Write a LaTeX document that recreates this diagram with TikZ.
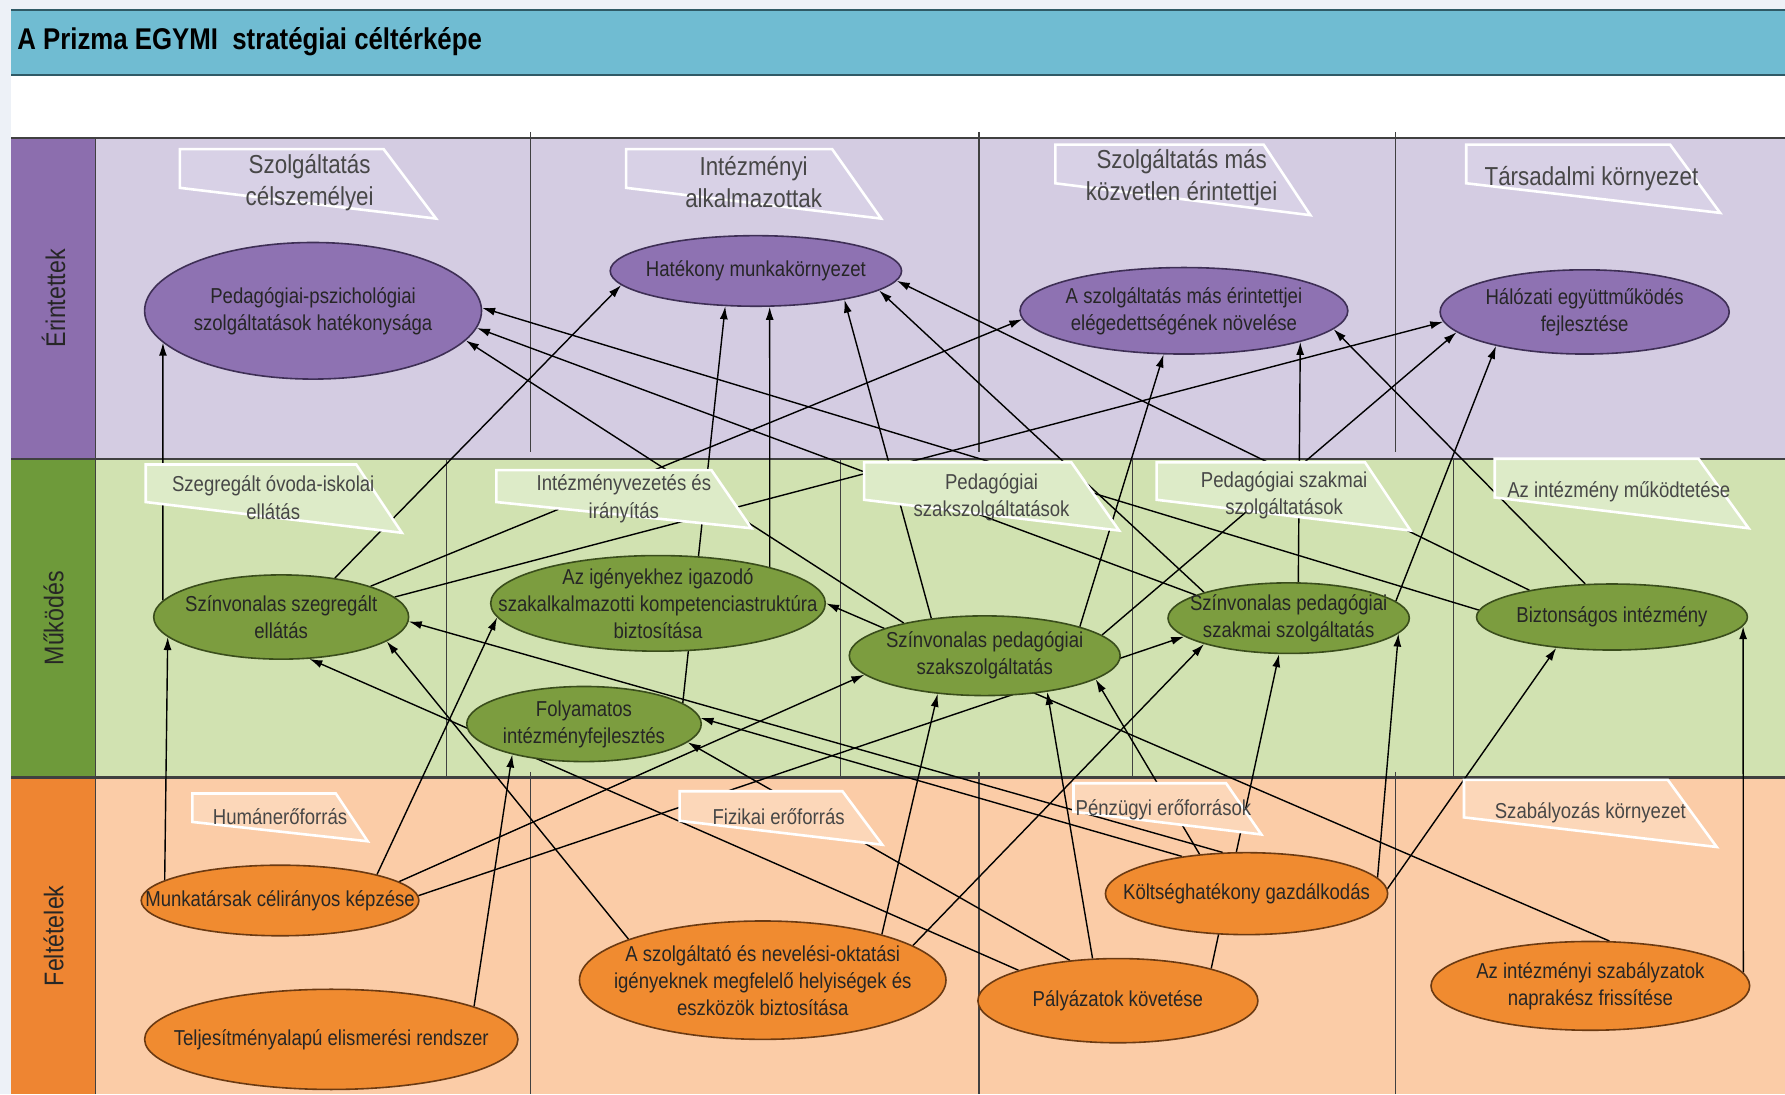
\documentclass[tikz,border=0pt]{standalone}
\usepackage{fontspec}
\setmainfont{Liberation Sans}[FakeStretch=0.86]
\usetikzlibrary{arrows.meta,shapes.geometric}

\definecolor{pagebg}{HTML}{EDF1F7}
\definecolor{titleband}{HTML}{70BCD2}
\definecolor{bandline}{HTML}{2F5A66}
\definecolor{erbg}{HTML}{D4CCE2}
\definecolor{erlab}{HTML}{8C6EAE}
\definecolor{erfill}{HTML}{8E72B2}
\definecolor{erline}{HTML}{3E2F55}
\definecolor{mubg}{HTML}{D1E2B1}
\definecolor{mulab}{HTML}{6E9A3A}
\definecolor{mufill}{HTML}{7C9D3F}
\definecolor{muline}{HTML}{3A4D1C}
\definecolor{febg}{HTML}{FBCCA7}
\definecolor{felab}{HTML}{EE8532}
\definecolor{fefill}{HTML}{F08B30}
\definecolor{feline}{HTML}{6B3A12}
\definecolor{banE}{HTML}{D8D1E6}
\definecolor{banM}{HTML}{DDEBC8}
\definecolor{banF}{HTML}{FCD7B9}
\definecolor{inktxt}{HTML}{262626}
\definecolor{grayline}{HTML}{404040}

\pgfdeclarelayer{back}
\pgfdeclarelayer{edges}
\pgfsetlayers{back,edges,main}

\tikzset{
  >={Latex[length=6.5pt,width=4pt]},
  goal/.style={ellipse, draw, line width=0.8pt, inner sep=0pt},
  goalE/.style={goal, fill=erfill, draw=erline},
  goalM/.style={goal, fill=mufill, draw=muline},
  goalF/.style={goal, fill=fefill, draw=feline},
  gtxt/.style={align=center, text=inktxt, font=\fontsize{10.8}{13.5}\selectfont},
  tabshape/.style={draw=white, line width=1.3pt},
  tabtxt/.style={align=center, text=inktxt!85, font=\fontsize{10.8}{13.7}\selectfont},
  tabtxtbig/.style={tabtxt, font=\fontsize{13}{16}\selectfont},
  link/.style={->, line width=0.7pt},
  divider/.style={grayline, line width=0.6pt},
  rowline/.style={grayline, line width=1.2pt},
  rowlabel/.style={rotate=90, text=inktxt, font=\fontsize{13.5}{16}\selectfont},
}

\begin{document}
\begin{tikzpicture}[x=0.02cm,y=-0.02cm]
    \useasboundingbox (0,0) rectangle (1568,961);
    %% background and rows
    \begin{pgfonlayer}{back}
        \fill[pagebg] (0,0) rectangle (1568,961);
        \fill[titleband] (10,9) rectangle (1568,66);
        \draw[bandline,line width=1.2pt] (10,9) -- (1568,9);
        \draw[bandline,line width=1.2pt] (10,66) -- (1568,66);
        \fill[white] (10,67) rectangle (1568,121);
        \fill[erbg] (84,121) rectangle (1568,403);
        \fill[erlab] (10,121) rectangle (84,403);
        \fill[mubg] (84,403) rectangle (1568,683);
        \fill[mulab] (10,403) rectangle (84,683);
        \fill[febg] (84,683) rectangle (1568,961);
        \fill[felab] (10,683) rectangle (84,961);
        \draw[rowline] (10,121) -- (1568,121);
        \draw[rowline] (10,403) -- (1568,403);
        \draw[rowline] (10,683) -- (1568,683);
        \draw[divider] (84,121) -- (84,961);
        %% dividers
        \foreach \x in {466,860,1226} \draw[divider] (\x,116) -- (\x,397);
        \foreach \x in {392,738,995,1277} \draw[divider] (\x,404) -- (\x,683);
        \foreach \x in {466,860,1226} \draw[divider] (\x,678) -- (\x,961);
    \end{pgfonlayer}

    %% title and row labels
    \node[anchor=west,text=black,font=\bfseries\fontsize{15}{18}\selectfont] (title) at (9,37) {A Prizma EGYMI~ stratégiai céltérképe};
    \node[rowlabel] (labE) at (47,262) {Érintettek};
    \node[rowlabel] (labM) at (47,543) {Működés};
    \node[rowlabel] (labF) at (47,822) {Feltételek};

    %% Érintettek
    \node[goalE,minimum width=5.92cm,minimum height=2.40cm] (E1) at (275,273) {};
    \node[goalE,minimum width=5.12cm,minimum height=1.24cm] (E2) at (664,238) {};
    \node[goalE,minimum width=5.76cm,minimum height=1.52cm] (E3) at (1040,273) {};
    \node[goalE,minimum width=5.08cm,minimum height=1.48cm] (E4) at (1392,274) {};
    \node[gtxt] (E1t) at (E1) {Pedagógiai-pszichológiai\\szolgáltatások hatékonysága};
    \node[gtxt] (E2t) at (E2) {Hatékony munkakörnyezet};
    \node[gtxt] (E3t) at (E3) {A szolgáltatás más érintettjei\\elégedettségének növelése};
    \node[gtxt] (E4t) at (E4) {Hálózati együttműködés\\fejlesztése};

    %% Működés
    \node[goalM,minimum width=4.48cm,minimum height=1.48cm] (M1) at (247,542) {};
    \node[goalM,minimum width=5.88cm,minimum height=1.68cm] (M2) at (578,530) {};
    \node[goalM,minimum width=4.76cm,minimum height=1.40cm] (M3) at (865,576) {};
    \node[goalM,minimum width=4.24cm,minimum height=1.24cm] (M4) at (1132,543) {};
    \node[goalM,minimum width=4.76cm,minimum height=1.16cm] (M5) at (1416,542) {};
    \node[goalM,minimum width=4.12cm,minimum height=1.32cm] (M6) at (513,636) {};
    \node[gtxt] (M1t) at (M1) {Színvonalas szegregált\\ellátás};
    \node[gtxt] (M2t) at (M2) {Az igényekhez igazodó\\szakalkalmazotti kompetenciastruktúra\\biztosítása};
    \node[gtxt] (M3t) at (M3) {Színvonalas pedagógiai\\szakszolgáltatás};
    \node[gtxt] (M4t) at (M4) {Színvonalas pedagógiai\\szakmai szolgáltatás};
    \node[gtxt] (M5t) at (M5) {Biztonságos intézmény};
    \node[gtxt] (M6t) at (M6) {Folyamatos\\intézményfejlesztés};

    %% Feltételek
    \node[goalF,minimum width=4.88cm,minimum height=1.24cm] (F1) at (246,791) {};
    \node[goalF,minimum width=6.56cm,minimum height=1.76cm] (F2) at (291,913) {};
    \node[goalF,minimum width=6.44cm,minimum height=2.08cm] (F3) at (670,861) {};
    \node[goalF,minimum width=4.96cm,minimum height=1.44cm] (F4) at (1095,785) {};
    \node[goalF,minimum width=4.92cm,minimum height=1.48cm] (F5) at (982,879) {};
    \node[goalF,minimum width=5.60cm,minimum height=1.56cm] (F6) at (1397,866) {};
    \node[gtxt] (F1t) at (F1) {Munkatársak célirányos képzése};
    \node[gtxt] (F2t) at (F2) {Teljesítményalapú elismerési rendszer};
    \node[gtxt] (F3t) at (F3) {A szolgáltató és nevelési-oktatási\\igényeknek megfelelő helyiségek és\\eszközök biztosítása};
    \node[gtxt] (F4t) at (F4) {Költséghatékony gazdálkodás};
    \node[gtxt] (F5t) at (F5) {Pályázatok követése};
    \node[gtxt] (F6t) at (F6) {Az intézményi szabályzatok\\naprakész frissítése};

    %% arrows
    \begin{pgfonlayer}{edges}
        \draw[link] (M1.172) -- (E1.192);
        \draw[link] (M1.36) -- (E2.186);
        \draw[link] (M1.19) -- (E3.183);
        \draw[link] (M1.10) -- (E4.184);
        \draw[link] (M2.18) -- (E2.291);
        \draw[link] (M6.12) -- (E2.229);
        \draw[link] (M3.158) -- (E1.349);
        \draw[link] (M3.145) -- (E2.342);
        \draw[link] (M3.17) -- (E3.245);
        \draw[link] (M3.10) -- (E4.189);
        \draw[link] (M4.166) -- (E1.354);
        \draw[link] (M4.163) -- (E2.351);
        \draw[link] (M4.75) -- (E3.345);
        \draw[link] (M4.9) -- (E4.201);
        \draw[link] (M5.177) -- (E1.1);
        \draw[link] (M5.162) -- (E2.356);
        \draw[link] (M5.129) -- (E3.353);
        \draw[link] (F1.170) -- (M1.190);
        \draw[link] (F1.15) -- (M2.185);
        \draw[link] (F1.9) -- (M3.189);
        \draw[link] (F1.2) -- (M4.190);
        \draw[link] (F2.13) -- (M6.203);
        \draw[link] (F3.163) -- (M1.347);
        \draw[link] (F3.21) -- (M3.219);
        \draw[link] (F3.13) -- (M4.197);
        \draw[link] (F4.120) -- (M1.358);
        \draw[link] (F4.150) -- (M6.3);
        \draw[link] (F4.140) -- (M3.348);
        \draw[link] (F4.7) -- (M4.352);
        \draw[link] (F4.2) -- (M5.209);
        \draw[link] (F5.163) -- (M1.304);
        \draw[link] (F5.140) -- (M6.350);
        \draw[link] (F5.121) -- (M3.330);
        \draw[link] (F5.19) -- (M4.255);
        \draw[link] (F6.5) -- (M5.356);
        \draw[link] (F6.67) -- (M2.0);
    \end{pgfonlayer}

    %% tabs
    \draw[tabshape,fill=banE] (158,131) -- (337,131) -- (383,192) -- (158,165) -- cycle;
    \draw[tabshape,fill=banE] (550,131) -- (731,131) -- (774,192) -- (550,165) -- cycle;
    \draw[tabshape,fill=banE] (927,127) -- (1110,127) -- (1151,189) -- (927,161) -- cycle;
    \draw[tabshape,fill=banE] (1288,127) -- (1467,127) -- (1511,187) -- (1288,161) -- cycle;
    \draw[tabshape,fill=banM] (128,408) -- (313,408) -- (353,468) -- (128,441) -- cycle;
    \draw[tabshape,fill=banM] (436,413) -- (625,413) -- (660,464) -- (436,441) -- cycle;
    \draw[tabshape,fill=banM] (759,406) -- (941,406) -- (983,466) -- (759,439) -- cycle;
    \draw[tabshape,fill=banM] (1016,406) -- (1199,406) -- (1239,466) -- (1016,439) -- cycle;
    \draw[tabshape,fill=banM] (1313,403) -- (1492,403) -- (1536,464) -- (1313,437) -- cycle;
    \draw[tabshape,fill=banF] (169,697) -- (295,697) -- (323,739) -- (169,722) -- cycle;
    \draw[tabshape,fill=banF] (597,695) -- (740,695) -- (775,742) -- (597,721) -- cycle;
    \draw[tabshape,fill=banF] (943,688) -- (1077,688) -- (1108,733) -- (943,713) -- cycle;
    \draw[tabshape,fill=banF] (1286,685) -- (1465,685) -- (1508,744) -- (1286,718) -- cycle;
    \node[tabtxtbig] (tSzolg) at (272,160) {Szolgáltatás\\célszemélyei};
    \node[tabtxtbig] (tAlk) at (662,160) {Intézményi\\alkalmazottak};
    \node[tabtxtbig] (tKozv) at (1038,156) {Szolgáltatás más\\közvetlen érintettjei};
    \node[tabtxtbig] (tTars) at (1398,157) {Társadalmi környezet};
    \node[tabtxt] (tSzeg) at (240,437) {Szegregált óvoda-iskolai\\ellátás};
    \node[tabtxt] (tVez) at (548,438) {Intézményvezetés és\\irányítás};
    \node[tabtxt] (tPsz) at (871,437) {Pedagógiai\\szakszolgáltatások};
    \node[tabtxt] (tPszm) at (1128,435) {Pedagógiai szakmai\\szolgáltatások};
    \node[tabtxt] (tMuk) at (1422,432) {Az intézmény működtetése};
    \node[tabtxt] (tHum) at (246,717) {Humánerőforrás};
    \node[tabtxt] (tFiz) at (684,717) {Fizikai erőforrás};
    \node[tabtxt] (tPenz) at (1022,711) {Pénzügyi erőforrások};
    \node[tabtxt] (tSzab) at (1397,714) {Szabályozás környezet};
\end{tikzpicture}
\end{document}
